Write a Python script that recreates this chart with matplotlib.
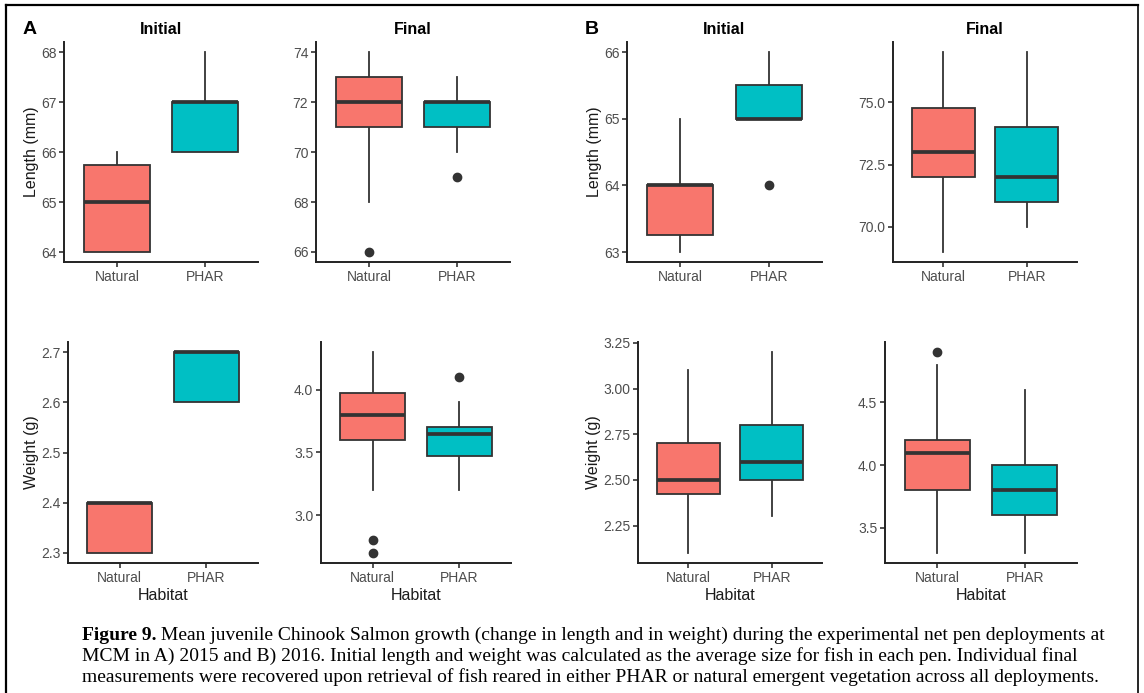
import matplotlib
matplotlib.use('Agg')
import matplotlib.pyplot as plt
from matplotlib.ticker import FormatStrFormatter
from matplotlib.lines import Line2D

plt.rcParams['font.family'] = ['Liberation Sans', 'DejaVu Sans']

groups = ['Natural', 'PHAR']
colors = ['#F8766D', '#00BFC4']

# five-number summaries per group: [whislo, q1, median, q3, whishi]
len_2015_init = [[64, 64, 65, 65.75, 66], [66, 66, 67, 67, 68]]
len_2015_init_out = [[], []]
len_2015_final = [[68, 71, 72, 73, 74], [70, 71, 72, 72, 73]]
len_2015_final_out = [[66], [69]]
wt_2015_init = [[2.3, 2.3, 2.4, 2.4, 2.4], [2.6, 2.6, 2.7, 2.7, 2.7]]
wt_2015_init_out = [[], []]
wt_2015_final = [[3.2, 3.6, 3.8, 3.975, 4.3], [3.2, 3.475, 3.65, 3.7, 3.9]]
wt_2015_final_out = [[2.8, 2.7], [4.1]]

len_2016_init = [[63, 63.25, 64, 64, 65], [65, 65, 65, 65.5, 66]]
len_2016_init_out = [[], [64]]
len_2016_final = [[69, 72, 73, 74.75, 77], [70, 71, 72, 74, 77]]
len_2016_final_out = [[], []]
wt_2016_init = [[2.1, 2.425, 2.5, 2.7, 3.1], [2.3, 2.5, 2.6, 2.8, 3.2]]
wt_2016_init_out = [[], []]
wt_2016_final = [[3.3, 3.8, 4.1, 4.2, 4.8], [3.3, 3.6, 3.8, 4.0, 4.6]]
wt_2016_final_out = [[4.9], []]

W, H = 1144, 693
fig = plt.figure(figsize=(W / 100, H / 100), dpi=100)


def px_axes(left, right, top, bottom):
    return fig.add_axes([left / W, 1 - bottom / H, (right - left) / W, (bottom - top) / H])


def draw_panel(ax, summ, outs, ticks, fmt, ylabel=None, xlabel=None):
    stats = []
    for g, s, o in zip(groups, summ, outs):
        stats.append({'label': g, 'whislo': s[0], 'q1': s[1], 'med': s[2],
                      'q3': s[3], 'whishi': s[4], 'fliers': o})
    res = ax.bxp(stats, positions=[1, 2], widths=0.75, patch_artist=True,
                 showcaps=False,
                 boxprops=dict(edgecolor='#333333', linewidth=1.3),
                 whiskerprops=dict(color='#333333', linewidth=1.3),
                 medianprops=dict(color='#333333', linewidth=2.7, solid_capstyle='butt'),
                 flierprops=dict(marker='o', markerfacecolor='#333333',
                                 markeredgecolor='#333333', markersize=6))
    for patch, c in zip(res['boxes'], colors):
        patch.set_facecolor(c)
        patch.set_zorder(2)
    for w in res['whiskers']:
        w.set_zorder(1)

    lo = min([s[0] for s in summ] + [v for o in outs for v in o])
    hi = max([s[4] for s in summ] + [v for o in outs for v in o])
    pad = (hi - lo) * 0.05
    ax.set_ylim(lo - pad, hi + pad)
    ax.set_xlim(0.4, 2.6)
    ax.set_yticks(ticks)
    ax.yaxis.set_major_formatter(FormatStrFormatter(fmt))
    ax.set_xticks([1, 2])
    ax.set_xticklabels(groups)

    for side in ['top', 'right']:
        ax.spines[side].set_visible(False)
    for side in ['left', 'bottom']:
        ax.spines[side].set_linewidth(1.4)
        ax.spines[side].set_color('#222222')
    ax.tick_params(axis='both', colors='#222222', labelcolor='#4D4D4D',
                   labelsize=10, length=3.5, width=1.1, pad=2)
    if ylabel:
        ax.set_ylabel(ylabel, fontsize=11.5, color='#1a1a1a', labelpad=1.5)
    if xlabel:
        ax.set_xlabel(xlabel, fontsize=11.5, color='#1a1a1a', labelpad=2.5)


# top row: length
ax1 = px_axes(64, 258, 42, 262)
draw_panel(ax1, len_2015_init, len_2015_init_out, [64, 65, 66, 67, 68], '%d', ylabel='Length (mm)')
ax1.set_title('Initial', fontsize=11.5, fontweight='bold', pad=6)

ax2 = px_axes(316, 510, 42, 262)
draw_panel(ax2, len_2015_final, len_2015_final_out, [66, 68, 70, 72, 74], '%d')
ax2.set_title('Final', fontsize=11.5, fontweight='bold', pad=6)

ax3 = px_axes(627, 822, 42, 262)
draw_panel(ax3, len_2016_init, len_2016_init_out, [63, 64, 65, 66], '%d', ylabel='Length (mm)')
ax3.set_title('Initial', fontsize=11.5, fontweight='bold', pad=6)

ax4 = px_axes(893, 1077, 42, 262)
draw_panel(ax4, len_2016_final, len_2016_final_out, [70, 72.5, 75], '%.1f')
ax4.set_title('Final', fontsize=11.5, fontweight='bold', pad=6)

# bottom row: weight
ax5 = px_axes(68, 258, 342, 563)
draw_panel(ax5, wt_2015_init, wt_2015_init_out, [2.3, 2.4, 2.5, 2.6, 2.7], '%.1f',
           ylabel='Weight (g)', xlabel='Habitat')
ax6 = px_axes(321, 511, 342, 563)
draw_panel(ax6, wt_2015_final, wt_2015_final_out, [3.0, 3.5, 4.0], '%.1f', xlabel='Habitat')
ax7 = px_axes(638, 822, 342, 563)
draw_panel(ax7, wt_2016_init, wt_2016_init_out, [2.25, 2.5, 2.75, 3.0, 3.25], '%.2f',
           ylabel='Weight (g)', xlabel='Habitat')
ax8 = px_axes(885, 1077, 342, 563)
draw_panel(ax8, wt_2016_final, wt_2016_final_out, [3.5, 4.0, 4.5], '%.1f', xlabel='Habitat')

# panel letters
fig.text(30 / W, 1 - 30 / H, 'A', fontsize=14, fontweight='bold', ha='center', va='center')
fig.text(592 / W, 1 - 30 / H, 'B', fontsize=14, fontweight='bold', ha='center', va='center')

# caption
cap_font = ['Liberation Serif', 'DejaVu Serif']
cap_lines = [
    'Mean juvenile Chinook Salmon growth (change in length and in weight) during the experimental net pen deployments at',
    'MCM in A) 2015 and B) 2016. Initial length and weight was calculated as the average size for fish in each pen. Individual final',
    'measurements were recovered upon retrieval of fish reared in either PHAR or natural emergent vegetation across all deployments.',
]
cap_size = 14
bold = fig.text(82 / W, 1 - 640 / H, 'Figure 9.', family=cap_font, fontsize=cap_size,
                fontweight='bold', va='baseline')
fig.add_artist(plt.Annotation(' ' + cap_lines[0], xy=(1, 0), xycoords=bold,
                              family=cap_font, fontsize=cap_size, va='bottom', ha='left',
                              annotation_clip=False))
for i, line in enumerate(cap_lines[1:]):
    fig.text(82 / W, 1 - (661 + i * 21) / H, line, family=cap_font, fontsize=cap_size,
             va='baseline')

# frame around the figure (left, top, right)
fig.add_artist(Line2D([6 / W, 6 / W], [0, 1 - 5 / H], transform=fig.transFigure, color='black', lw=1.6))
fig.add_artist(Line2D([6 / W, 1138 / W], [1 - 5 / H, 1 - 5 / H], transform=fig.transFigure, color='black', lw=1.6))
fig.add_artist(Line2D([1138 / W, 1138 / W], [0, 1 - 5 / H], transform=fig.transFigure, color='black', lw=1.2))

fig.savefig('out.png', dpi=100)
